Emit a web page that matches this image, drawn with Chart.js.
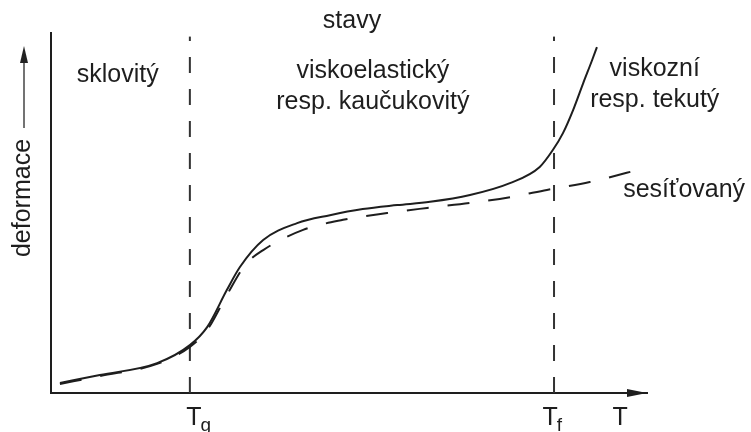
<!DOCTYPE html>
<html lang="cs">
<head>
<meta charset="UTF-8">
<title>Stavy polymeru</title>
<script src="https://cdn.jsdelivr.net/npm/chart.js"></script>
<style>
  html, body { margin: 0; padding: 0; background: #fff; }
  #wrap { width: 751px; height: 432px; }
</style>
</head>
<body>
<div id="wrap"><canvas id="stavy"></canvas></div>
<script>
// teplota a deformace v relativnich jednotkach (0-100)
const linearT   = [1.5, 8.2, 17.8, 23.3, 26.2, 29.5, 31.7, 35.6, 41.3, 46.8, 52.3, 58.1, 63.6, 70.3, 77.0, 82.0, 84.2, 85.9, 87.6, 89.3, 90.8, 91.6];
const linearDef = [2.8, 5.0, 8.3, 13.3, 18.3, 28.6, 35.0, 42.5, 47.2, 49.4, 51.1, 52.2, 53.1, 55.0, 58.3, 62.8, 67.5, 72.2, 78.6, 86.1, 92.5, 96.1];
const crossT    = [1.5, 8.2, 17.8, 23.3, 26.2, 29.5, 32.6, 35.6, 42.3, 49.0, 56.4, 63.1, 70.3, 77.0, 83.2, 90.4, 99.7];
const crossDef  = [2.5, 4.7, 8.1, 12.8, 17.5, 27.2, 35.6, 39.7, 45.3, 48.1, 50.0, 51.4, 52.8, 54.4, 56.4, 58.6, 62.5];
const transT    = [23.3, 84.4];          // Tg, Tf
const tickT     = [23.3, 84.4, 95.5];
const tickMain  = ['T', 'T', 'T'];
const tickSub   = ['g', 'f', ''];

const ink = '#1e1e1e';
const fontFamily = '"Liberation Sans", Arial, sans-serif';

// popisky: x v jednotkach T, y v jednotkach deformace (uctari baseline)
const notes = [
  { text: 'stavy', x: 50.5, y: 101.4, align: 'center' },
  { text: 'sklovitý', x: 11.2, y: 86.4, align: 'center' },
  { text: 'viskoelastický', x: 54.0, y: 87.5, align: 'center' },
  { text: 'resp. kaučukovitý', x: 54.0, y: 78.9, align: 'center' },
  { text: 'viskozní', x: 101.3, y: 88.1, align: 'center' },
  { text: 'resp. tekutý', x: 101.3, y: 79.4, align: 'center' },
  { text: 'sesíťovaný', x: 96.0, y: 54.4, align: 'left' }
];

function toPoints(xs, ys) {
  return xs.map((v, i) => ({ x: v, y: ys[i] }));
}

function arrowHead(ctx, tx, ty, dx, dy, len, half) {
  // hrot v (tx, ty), smer (dx, dy)
  const bx = tx - dx * len, by = ty - dy * len;
  ctx.beginPath();
  ctx.moveTo(tx, ty);
  ctx.lineTo(bx - dy * half, by + dx * half);
  ctx.lineTo(bx + dy * half, by - dx * half);
  ctx.closePath();
  ctx.fill();
}

const decor = {
  id: 'decor',
  afterDraw(chart) {
    const { ctx, chartArea: a, scales: { x, y } } = chart;
    ctx.save();
    ctx.fillStyle = ink;
    ctx.strokeStyle = ink;

    // sipka na ose T
    arrowHead(ctx, a.right, a.bottom, 1, 0, 20, 4);

    // popis osy y se sipkou
    const lx = a.left - 27;
    ctx.lineWidth = 1.5;
    ctx.strokeStyle = '#444';
    ctx.fillStyle = '#222';
    ctx.beginPath();
    ctx.moveTo(lx, a.top + 95);
    ctx.lineTo(lx, a.top + 26);
    ctx.stroke();
    arrowHead(ctx, lx, a.top + 13, 0, -1, 17, 4);

    ctx.fillStyle = ink;
    ctx.font = '25px ' + fontFamily;
    ctx.save();
    ctx.translate(lx - 1, a.top + 165);
    ctx.rotate(-Math.PI / 2);
    ctx.textAlign = 'center';
    ctx.textBaseline = 'middle';
    ctx.fillText('deformace', 0, 0);
    ctx.restore();

    // popisky stavu
    ctx.textBaseline = 'alphabetic';
    notes.forEach(n => {
      ctx.textAlign = n.align;
      ctx.fillText(n.text, x.getPixelForValue(n.x), y.getPixelForValue(n.y));
    });

    // popisky teplot pod osou
    const base = a.bottom + 32;
    tickT.forEach((t, i) => {
      const px = x.getPixelForValue(t);
      ctx.font = '25px ' + fontFamily;
      ctx.textAlign = 'center';
      const tx = tickSub[i] ? px + (i === 0 ? 4 : -4) : px;
      ctx.fillText(tickMain[i], tx, base);
      if (tickSub[i]) {
        const w = ctx.measureText(tickMain[i]).width;
        ctx.font = '19px ' + fontFamily;
        ctx.textAlign = 'left';
        ctx.fillText(tickSub[i], tx + w / 2 - 1, base + 6);
      }
    });
    ctx.restore();
  }
};

const datasets = [
  {
    label: 'lineární',
    data: toPoints(linearT, linearDef),
    borderColor: ink,
    borderWidth: 2,
    pointRadius: 0,
    showLine: true,
    cubicInterpolationMode: 'monotone',
    clip: false
  },
  {
    label: 'sesíťovaný',
    data: toPoints(crossT, crossDef),
    borderColor: ink,
    borderWidth: 2,
    borderDash: [22, 19],
    pointRadius: 0,
    showLine: true,
    cubicInterpolationMode: 'monotone',
    clip: false
  }
];

transT.forEach(t => {
  datasets.push({
    label: 'přechod',
    data: [{ x: t, y: 0 }, { x: t, y: 99 }],
    borderColor: '#333',
    borderWidth: 2,
    borderDash: [16, 16],
    pointRadius: 0,
    showLine: true,
    clip: false
  });
});

new Chart(document.getElementById('stavy'), {
  type: 'scatter',
  data: { datasets },
  options: {
    responsive: true,
    maintainAspectRatio: false,
    animation: false,
    events: [],
    layout: { padding: { left: 51, right: 104, top: 33, bottom: 39 } },
    plugins: { legend: { display: false }, tooltip: { enabled: false } },
    scales: {
      x: {
        type: 'linear', min: 0, max: 100,
        grid: { display: false, drawTicks: false },
        ticks: { display: false },
        border: { display: true, color: ink, width: 2 }
      },
      y: {
        type: 'linear', min: 0, max: 100,
        grid: { display: false, drawTicks: false },
        ticks: { display: false },
        border: { display: true, color: ink, width: 2 }
      }
    }
  },
  plugins: [decor]
});
</script>
</body>
</html>
